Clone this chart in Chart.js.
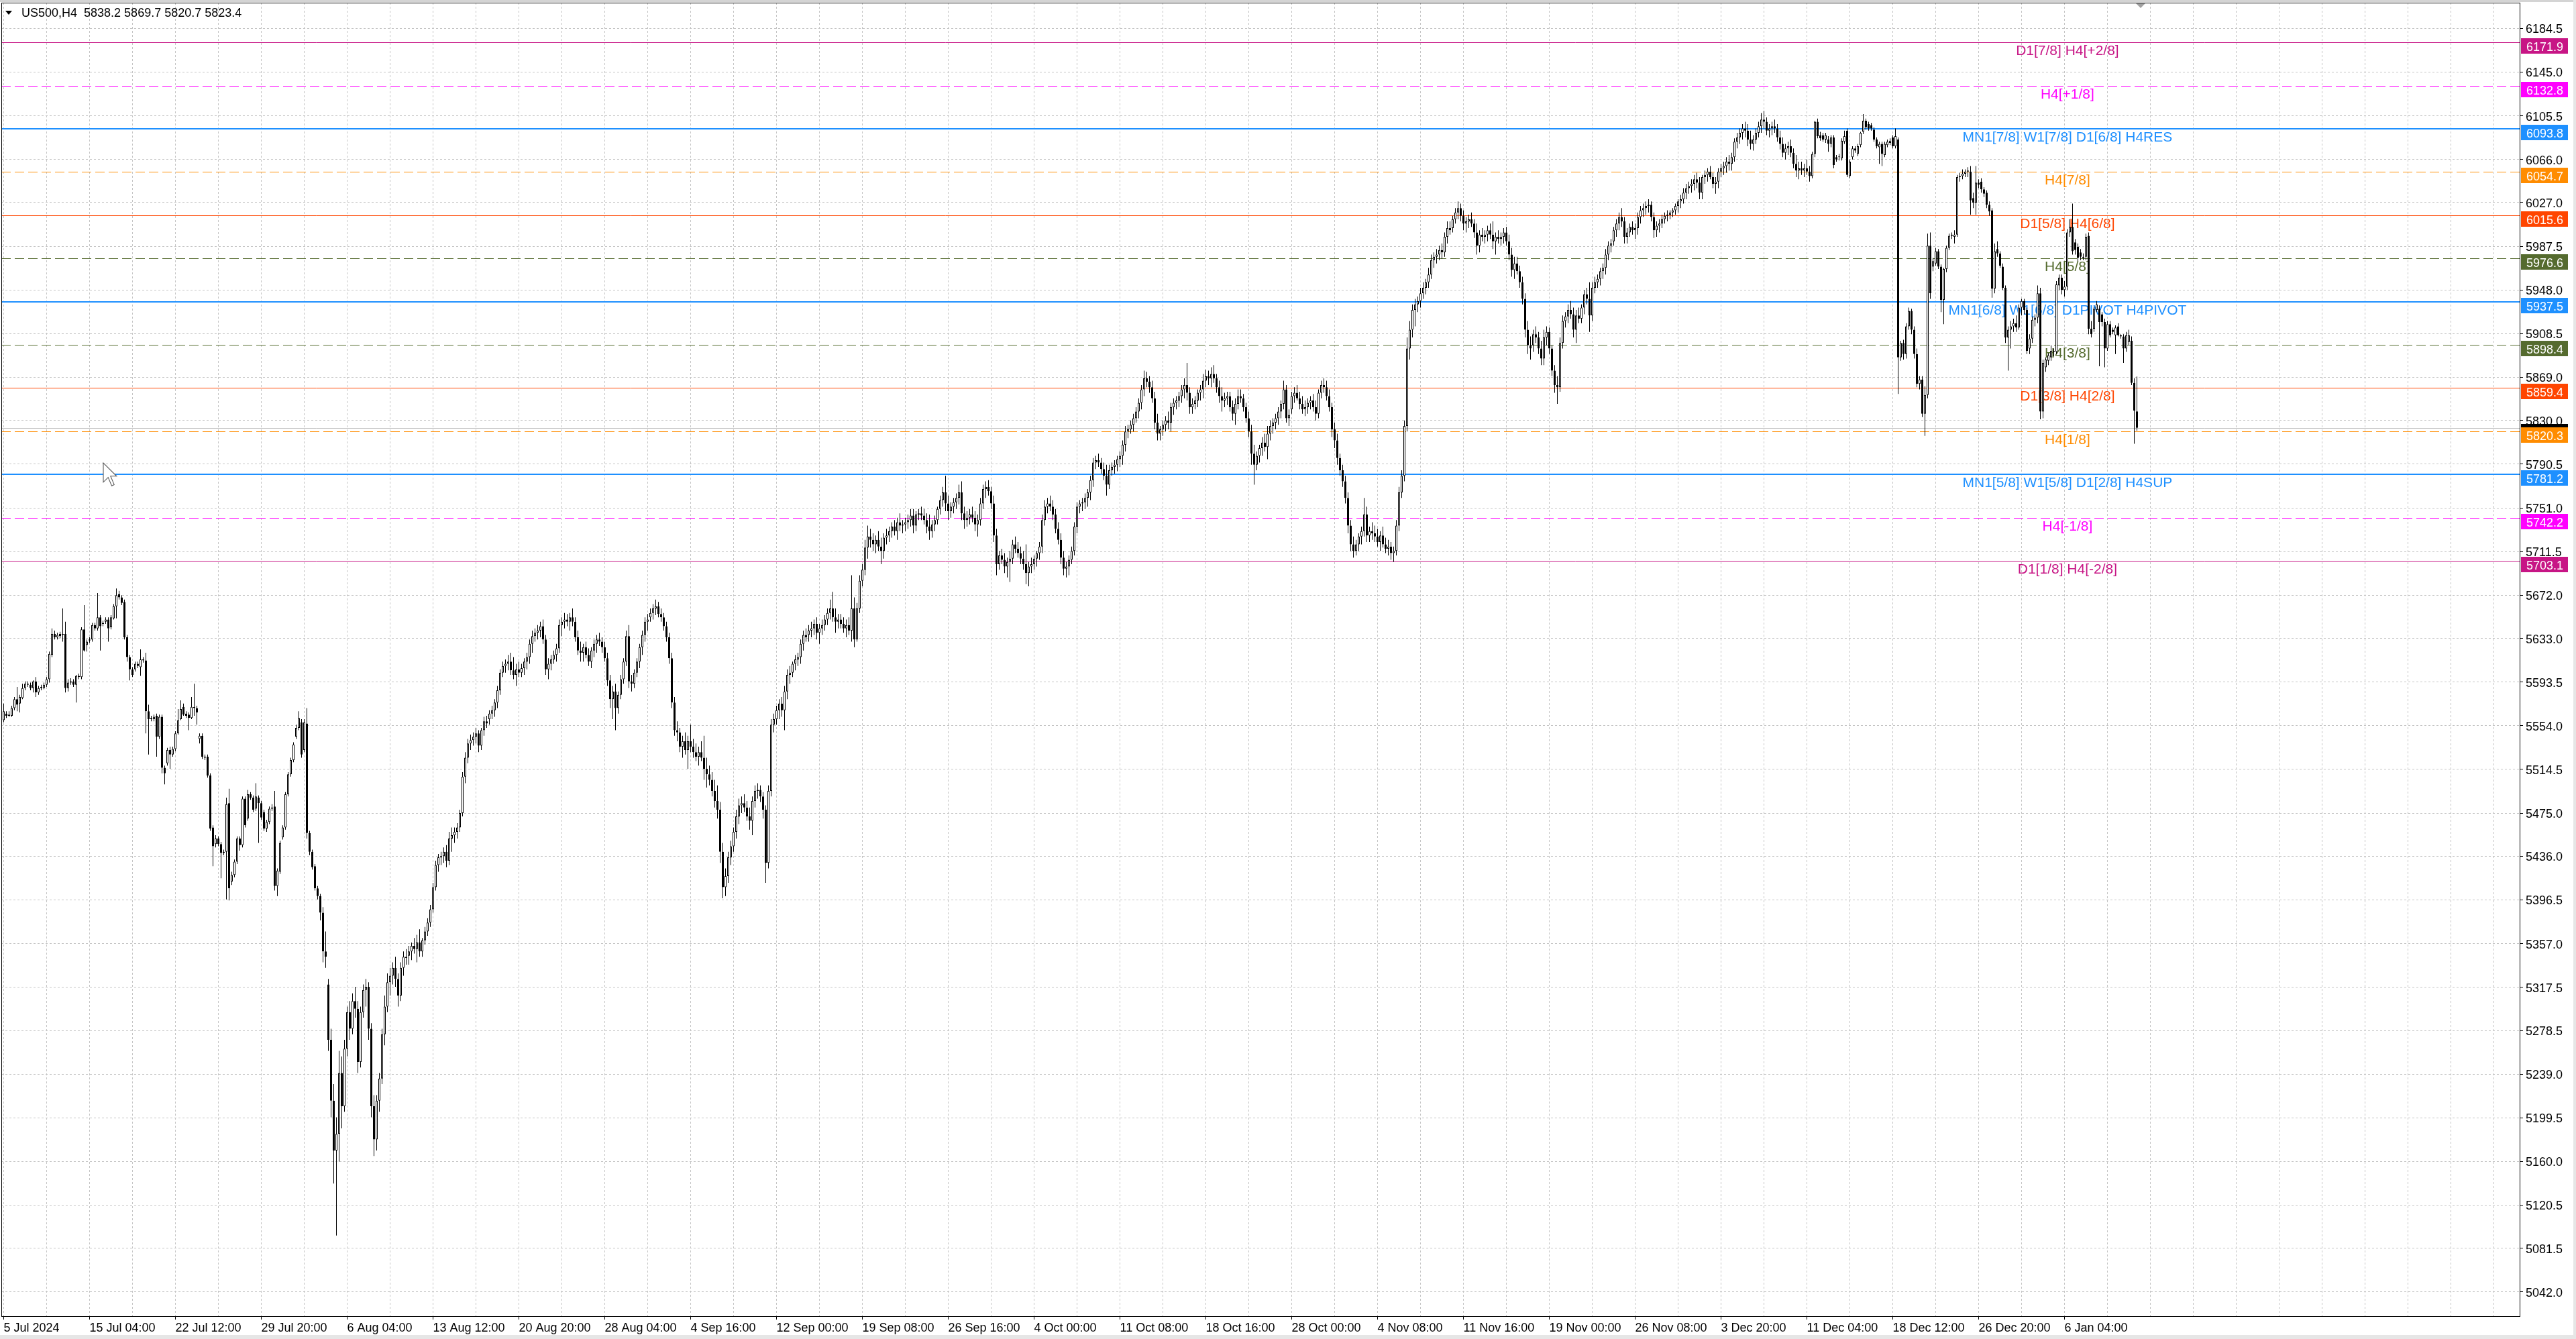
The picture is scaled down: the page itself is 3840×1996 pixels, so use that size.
<!DOCTYPE html>
<html>
<head>
<meta charset="utf-8">
<title>US500,H4</title>
<script src="https://cdn.jsdelivr.net/npm/chart.js@4.4.1/dist/chart.umd.min.js"></script>
<style>
  html, body { margin: 0; padding: 0; background: #fff; }
  canvas { display: block; }
</style>
</head>
<body>
<canvas id="chart" width="3840" height="1996"></canvas>
<script>
const symbolTitle = 'US500,H4';

// time axis labels, one every 32 bars
const tickLabels = ['5 Jul 2024', '15 Jul 04:00', '22 Jul 12:00', '29 Jul 20:00', '6 Aug 04:00',
  '13 Aug 12:00', '20 Aug 20:00', '28 Aug 04:00', '4 Sep 16:00', '12 Sep 00:00', '19 Sep 08:00',
  '26 Sep 16:00', '4 Oct 00:00', '11 Oct 08:00', '18 Oct 16:00', '28 Oct 00:00', '4 Nov 08:00',
  '11 Nov 16:00', '19 Nov 00:00', '26 Nov 08:00', '3 Dec 20:00', '11 Dec 04:00', '18 Dec 12:00',
  '26 Dec 20:00', '6 Jan 04:00'];

// price axis labels
const yTicks = [6184.5, 6145.0, 6105.5, 6066.0, 6027.0, 5987.5, 5948.0, 5908.5, 5869.0, 5830.0,
  5790.5, 5751.0, 5711.5, 5672.0, 5633.0, 5593.5, 5554.0, 5514.5, 5475.0, 5436.0, 5396.5,
  5357.0, 5317.5, 5278.5, 5239.0, 5199.5, 5160.0, 5120.5, 5081.5, 5042.0];

// murrey levels
const levelPrices = [6171.9, 6132.8, 6093.8, 6054.7, 6015.6, 5976.6, 5937.5, 5898.4, 5859.4,
  5820.3, 5781.2, 5742.2, 5703.1];
const levelNames = ['D1[7/8] H4[+2/8]', 'H4[+1/8]', 'MN1[7/8] W1[7/8] D1[6/8] H4RES', 'H4[7/8]',
  'D1[5/8] H4[6/8]', 'H4[5/8]', 'MN1[6/8] W1[6/8] D1PIVOT H4PIVOT', 'H4[3/8]', 'D1[3/8] H4[2/8]',
  'H4[1/8]', 'MN1[5/8] W1[5/8] D1[2/8] H4SUP', 'H4[-1/8]', 'D1[1/8] H4[-2/8]'];

// H4 bars, [open, high, low, close]
const barsJul = [ // 5 Jul 20:00 .. 26 Jul
  [5559,5574,5557,5567],
  [5565,5567,5561,5563],[5563,5567,5562,5564],[5563,5572,5562,5570],[5570,5580,5568,5578],[5578,5589,5567,5573],[5574,5582,5566,5580],
  [5579,5592,5578,5588],[5588,5594,5586,5592],[5591,5594,5589,5592],[5591,5593,5586,5588],[5588,5595,5584,5594],[5594,5598,5580,5584],
  [5584,5590,5582,5588],[5588,5591,5586,5589],[5588,5593,5587,5591],[5591,5598,5589,5596],[5596,5621,5593,5619],[5618,5642,5616,5637],
  [5637,5640,5632,5634],[5634,5638,5632,5636],[5637,5639,5633,5635],[5636,5660,5630,5637],[5637,5648,5584,5588],[5588,5596,5585,5593],
  [5593,5597,5591,5594],[5594,5596,5589,5591],[5591,5600,5575,5599],[5599,5601,5596,5598],[5598,5643,5596,5641],[5641,5663,5621,5622],
  [5627,5632,5621,5630],[5631,5634,5629,5632],[5632,5647,5630,5645],[5645,5647,5640,5642],[5642,5674,5640,5652],[5652,5654,5622,5644],
  [5646,5649,5644,5647],[5648,5652,5646,5650],[5650,5652,5630,5642],[5643,5654,5641,5652],[5651,5664,5650,5662],[5662,5678,5651,5672],
  [5673,5676,5668,5670],[5670,5672,5663,5665],[5666,5668,5632,5634],[5634,5636,5612,5616],[5616,5618,5595,5605],[5605,5607,5598,5600],
  [5605,5612,5603,5610],[5610,5612,5606,5608],[5607,5623,5599,5614],[5614,5616,5611,5613],[5613,5620,5547,5567],[5567,5573,5528,5560],
  [5561,5563,5558,5560],[5560,5564,5558,5562],[5563,5565,5526,5544],[5544,5564,5542,5562],[5562,5564,5511,5516],[5516,5518,5501,5511],
  [5520,5534,5518,5532],[5532,5535,5515,5528],[5528,5535,5526,5533],[5533,5549,5531,5547],[5547,5569,5546,5559],[5560,5577,5559,5569],
  [5571,5574,5563,5564],[5565,5567,5561,5563],[5564,5566,5550,5561],[5561,5580,5560,5571],[5571,5592,5563,5570],[5570,5572,5555,5566],
  [5542,5547,5538,5545],[5545,5547,5524,5526],[5526,5528,5523,5525],[5526,5528,5507,5509],[5509,5511,5459,5461],[5462,5464,5427,5445],
  [5447,5455,5444,5452],[5452,5454,5445,5447],[5447,5449,5416,5439],[5439,5442,5437,5440],[5440,5489,5397,5483],[5484,5497,5396,5407],
  [5413,5422,5410,5419],[5419,5433,5417,5431],[5431,5454,5429,5452],[5452,5454,5441,5446],[5446,5490,5444,5488],[5488,5490,5462,5464]
];
const barsAug = [ // 29 Jul .. 30 Aug
  [5470,5496,5468,5492],[5492,5494,5487,5489],[5489,5491,5476,5478],[5479,5502,5477,5490],[5489,5491,5448,5484],[5484,5486,5469,5471],
  [5476,5478,5459,5461],[5461,5469,5458,5467],[5467,5481,5465,5479],[5480,5483,5477,5479],[5481,5495,5405,5409],[5409,5425,5400,5423],
  [5422,5450,5420,5448],[5453,5464,5451,5462],[5462,5494,5460,5492],[5492,5512,5490,5510],[5510,5525,5508,5523],[5523,5539,5521,5537],
  [5544,5555,5542,5552],[5552,5567,5550,5561],[5557,5560,5525,5528],[5532,5560,5530,5557],[5556,5570,5452,5457],[5457,5459,5437,5440],
  [5440,5442,5424,5426],[5427,5429,5405,5407],[5407,5409,5397,5400],[5400,5402,5378,5385],[5385,5390,5340,5350],[5350,5368,5335,5345],
  [5320,5325,5260,5270],[5270,5280,5200,5215],[5215,5230,5140,5170],[5170,5200,5093,5185],[5185,5260,5160,5240],[5240,5255,5190,5210],
  [5210,5270,5205,5262],[5262,5300,5255,5295],[5295,5305,5270,5280],[5280,5312,5275,5305],[5305,5318,5290,5298],[5298,5305,5240,5250],
  [5250,5300,5245,5295],[5295,5320,5290,5315],[5315,5325,5300,5318],[5318,5322,5270,5280],[5280,5285,5200,5210],[5210,5220,5165,5180],
  [5180,5220,5170,5215],[5215,5240,5205,5235],[5235,5280,5230,5275],[5275,5310,5265,5300],[5300,5330,5295,5322],[5322,5335,5310,5328],
  [5328,5340,5320,5335],[5335,5345,5318,5325],[5325,5330,5300,5310],[5310,5340,5305,5335],[5335,5350,5328,5345],[5345,5352,5338,5344],
  [5346,5355,5338,5350],[5350,5358,5342,5355],[5355,5362,5348,5352],[5352,5365,5340,5358],[5358,5370,5345,5350],[5350,5362,5345,5360],
  [5360,5372,5356,5368],[5368,5380,5364,5376],[5376,5392,5372,5388],[5388,5412,5385,5408],[5408,5432,5405,5428],[5428,5438,5422,5435],
  [5435,5440,5428,5436],[5436,5444,5430,5440],[5440,5446,5426,5432],[5432,5458,5428,5452],[5452,5462,5440,5455],[5455,5462,5448,5458],
  [5458,5466,5452,5462],[5462,5478,5458,5475],[5475,5512,5472,5508],[5508,5530,5502,5525],[5525,5542,5520,5538],[5538,5546,5532,5541],
  [5541,5548,5536,5544],[5544,5552,5538,5547],[5547,5550,5530,5536],[5536,5552,5532,5550],[5550,5562,5545,5558],[5558,5563,5552,5556],
  [5560,5568,5555,5565],[5565,5572,5560,5568],[5568,5578,5562,5575],[5575,5590,5570,5586],[5586,5605,5582,5602],[5602,5612,5598,5608],
  [5608,5614,5602,5610],[5610,5618,5604,5612],[5612,5620,5600,5604],[5604,5616,5596,5600],[5600,5610,5590,5605],[5605,5612,5598,5602],
  [5602,5610,5598,5606],[5606,5615,5600,5612],[5612,5620,5605,5616],[5616,5632,5610,5628],[5628,5640,5620,5635],[5635,5642,5630,5638],
  [5638,5645,5632,5640],[5640,5648,5634,5644],[5644,5650,5628,5632],[5632,5636,5600,5605],[5605,5615,5596,5610],[5610,5618,5604,5614],
  [5614,5622,5610,5618],[5618,5628,5612,5624],[5624,5650,5620,5645],[5645,5652,5635,5648],[5648,5656,5642,5650],[5650,5655,5644,5648],
  [5648,5656,5640,5652],[5652,5660,5644,5648],[5648,5652,5630,5634],[5634,5640,5618,5622],[5622,5630,5612,5620],[5620,5628,5612,5625],
  [5625,5630,5615,5618],[5618,5624,5608,5612],[5612,5625,5606,5622],[5622,5632,5616,5628],[5628,5636,5620,5632],[5632,5638,5626,5630],
  [5630,5634,5620,5625],[5625,5630,5612,5615],[5615,5620,5590,5595],[5595,5600,5570,5578],[5578,5590,5560,5585],[5585,5592,5550,5570],
  [5570,5585,5565,5582],[5582,5600,5578,5596],[5596,5615,5592,5612],[5612,5640,5608,5635],[5635,5645,5588,5594],[5594,5600,5585,5592],
  [5592,5605,5588,5602],[5602,5615,5598,5612],[5612,5628,5606,5625],[5625,5640,5618,5636],[5636,5652,5630,5648],[5648,5655,5640,5650]
];
const barsSep = [ // 2 Sep .. 4 Oct
  [5652,5660,5648,5656],[5656,5664,5650,5660],[5660,5668,5654,5662],[5662,5666,5652,5655],[5655,5660,5648,5652],
  [5652,5656,5640,5644],[5644,5648,5630,5634],[5634,5638,5610,5615],[5615,5620,5570,5575],[5575,5580,5545,5550],[5550,5558,5540,5548],
  [5548,5552,5530,5535],[5535,5545,5525,5540],[5540,5548,5528,5532],[5532,5545,5515,5540],[5540,5555,5530,5535],[5535,5542,5525,5530],
  [5530,5538,5522,5526],[5526,5535,5518,5530],[5530,5540,5522,5525],[5525,5545,5505,5515],[5515,5525,5498,5510],[5510,5518,5500,5505],
  [5505,5512,5490,5495],[5495,5505,5480,5486],[5486,5500,5470,5478],[5478,5485,5430,5440],[5440,5448,5398,5408],[5408,5425,5400,5418],
  [5418,5440,5412,5435],[5435,5450,5428,5445],[5445,5462,5440,5458],[5458,5478,5452,5472],[5472,5488,5465,5482],[5482,5490,5475,5484],
  [5484,5492,5476,5480],[5480,5486,5468,5472],[5472,5480,5460,5468],[5468,5490,5455,5486],[5486,5500,5480,5495],[5495,5502,5488,5496],
  [5496,5500,5485,5490],[5490,5494,5470,5478],[5478,5482,5412,5430],[5430,5500,5425,5495],[5495,5560,5490,5555],[5555,5565,5548,5560],
  [5560,5572,5555,5568],[5568,5578,5560,5574],[5574,5580,5562,5568],[5568,5590,5550,5585],[5585,5605,5578,5600],[5600,5608,5592,5602],
  [5602,5612,5598,5610],[5610,5618,5604,5614],[5614,5620,5608,5616],[5616,5632,5610,5628],[5628,5640,5622,5636],[5636,5642,5630,5634],
  [5636,5645,5630,5640],[5640,5648,5634,5642],[5642,5650,5636,5646],[5646,5652,5632,5638],[5638,5646,5628,5642],[5642,5650,5636,5645],
  [5645,5654,5640,5650],[5650,5660,5645,5656],[5656,5668,5650,5660],[5660,5675,5648,5652],[5652,5660,5638,5648],[5648,5655,5642,5650],
  [5650,5655,5642,5646],[5646,5652,5638,5642],[5642,5650,5634,5645],[5645,5652,5636,5640],[5640,5690,5630,5660],[5660,5670,5625,5632],
  [5632,5665,5630,5660],[5660,5690,5656,5685],[5685,5700,5680,5695],[5695,5722,5690,5715],[5715,5735,5705,5725],[5725,5732,5715,5722],
  [5722,5728,5712,5718],[5718,5726,5710,5722],[5722,5730,5712,5716],[5716,5724,5700,5712],[5712,5728,5705,5724],[5724,5732,5718,5726],
  [5726,5734,5720,5730],[5730,5738,5724,5734],[5734,5740,5726,5730],[5730,5742,5722,5738],[5738,5746,5730,5735],[5735,5740,5728,5736],
  [5736,5742,5730,5738],[5738,5745,5732,5740],[5740,5750,5734,5744],[5744,5750,5728,5735],[5735,5748,5730,5745],[5745,5750,5740,5746],
  [5746,5752,5740,5744],[5744,5750,5736,5740],[5740,5746,5728,5734],[5734,5745,5722,5730],[5730,5740,5724,5736],[5736,5744,5730,5740],
  [5740,5752,5736,5750],[5750,5762,5745,5758],[5758,5770,5752,5765],[5765,5780,5748,5755],[5755,5762,5740,5748],[5748,5756,5742,5752],
  [5752,5760,5746,5756],[5756,5764,5750,5760],[5760,5772,5754,5765],[5765,5775,5740,5746],[5746,5752,5732,5740],[5740,5748,5734,5742],
  [5742,5750,5736,5745],[5745,5752,5738,5742],[5742,5748,5730,5736],[5736,5745,5725,5740],[5740,5760,5735,5755],[5755,5772,5750,5768],
  [5768,5775,5760,5770],[5770,5776,5762,5766],[5766,5770,5750,5755],[5755,5762,5720,5726],[5726,5732,5690,5700],[5700,5712,5695,5708],
  [5708,5714,5700,5704],[5704,5710,5692,5698],[5698,5706,5688,5702],[5702,5712,5684,5705],[5705,5722,5700,5718],[5718,5725,5710,5714],
  [5714,5720,5706,5710],[5710,5716,5700,5705],[5705,5712,5695,5700],[5700,5718,5682,5692],[5692,5702,5680,5698],[5698,5706,5692,5700],
  [5700,5708,5695,5705],[5705,5712,5698,5710],[5710,5720,5704,5716],[5716,5745,5710,5740],[5740,5758,5735,5752],[5752,5760,5746,5755]
];
const barsOct = [ // 7 Oct .. 8 Nov
  [5755,5762,5748,5752],[5752,5758,5740,5745],[5745,5750,5728,5732],[5732,5738,5718,5722],[5722,5728,5700,5706],[5706,5712,5690,5696],
  [5696,5702,5688,5698],[5698,5708,5690,5704],[5704,5716,5700,5712],[5712,5738,5708,5734],[5734,5756,5728,5752],[5752,5758,5746,5755],
  [5755,5760,5748,5756],[5756,5764,5750,5760],[5760,5768,5752,5765],[5765,5780,5758,5776],[5776,5796,5770,5792],[5792,5798,5786,5794],
  [5794,5800,5788,5792],[5792,5796,5782,5786],[5786,5792,5776,5780],[5780,5790,5762,5772],[5772,5790,5768,5785],[5785,5792,5780,5788],
  [5788,5794,5782,5790],[5790,5798,5784,5795],[5795,5802,5788,5798],[5798,5812,5790,5808],[5808,5825,5802,5820],[5820,5826,5814,5822],
  [5822,5830,5818,5826],[5826,5836,5820,5832],[5832,5842,5828,5838],[5838,5850,5832,5846],[5846,5862,5840,5858],[5858,5875,5852,5868],
  [5868,5874,5860,5865],[5865,5870,5855,5860],[5860,5866,5846,5850],[5850,5856,5822,5828],[5828,5836,5812,5818],[5818,5825,5812,5822],
  [5822,5830,5816,5826],[5826,5834,5820,5830],[5830,5838,5822,5828],[5828,5846,5820,5842],[5842,5850,5835,5846],[5846,5852,5840,5848],
  [5848,5856,5842,5852],[5852,5862,5846,5858],[5858,5868,5850,5862],[5862,5882,5848,5855],[5855,5860,5836,5842],[5842,5850,5836,5845],
  [5845,5852,5840,5848],[5848,5858,5842,5855],[5855,5862,5848,5858],[5858,5872,5850,5866],[5866,5876,5860,5870],[5870,5875,5862,5868],
  [5868,5878,5860,5872],[5872,5880,5864,5868],[5868,5872,5855,5860],[5860,5866,5846,5852],[5852,5860,5838,5848],[5848,5855,5842,5850],
  [5850,5856,5844,5852],[5852,5856,5838,5842],[5842,5848,5830,5836],[5836,5850,5826,5845],[5845,5858,5840,5852],[5852,5858,5846,5850],
  [5850,5854,5838,5842],[5842,5846,5828,5832],[5832,5838,5815,5820],[5820,5826,5790,5800],[5800,5808,5772,5790],[5790,5802,5785,5798],
  [5798,5808,5792,5805],[5805,5815,5798,5810],[5810,5818,5802,5806],[5806,5825,5795,5818],[5818,5830,5812,5825],[5825,5832,5818,5828],
  [5828,5836,5822,5832],[5832,5842,5826,5838],[5838,5848,5832,5845],[5845,5866,5840,5858],[5858,5862,5828,5832],[5832,5840,5825,5835],
  [5840,5856,5836,5852],[5852,5860,5846,5855],[5855,5862,5848,5850],[5850,5856,5840,5845],[5845,5852,5836,5840],[5840,5848,5834,5842],
  [5842,5850,5836,5846],[5846,5852,5840,5848],[5848,5854,5838,5842],[5842,5848,5830,5836],[5836,5858,5832,5855],[5855,5866,5850,5862],
  [5862,5868,5855,5860],[5860,5866,5848,5852],[5852,5858,5838,5842],[5842,5846,5815,5822],[5822,5828,5805,5812],[5812,5818,5790,5796],
  [5796,5800,5780,5785],[5785,5790,5770,5775],[5775,5780,5755,5760],[5760,5765,5728,5735],[5735,5740,5712,5718],[5718,5725,5706,5712],
  [5712,5722,5708,5718],[5718,5728,5712,5725],[5725,5734,5718,5730],[5730,5760,5725,5745],[5745,5752,5720,5726],[5726,5734,5720,5730],
  [5730,5738,5722,5728],[5728,5735,5720,5725],[5725,5732,5716,5720],[5720,5730,5712,5726],[5726,5734,5715,5718],[5718,5724,5710,5714],
  [5714,5722,5708,5716],[5716,5720,5704,5710],[5710,5716,5702,5712],[5712,5740,5708,5735],[5735,5770,5730,5765],[5765,5785,5760,5780],
  [5780,5830,5775,5825],[5825,5905,5820,5895],[5895,5920,5885,5912],[5912,5935,5905,5930],[5930,5940,5915,5935],[5935,5942,5928,5938],
  [5938,5950,5932,5945],[5945,5955,5940,5950],[5950,5958,5944,5955],[5955,5968,5950,5962],[5962,5980,5958,5975],[5975,5982,5968,5978],
  [5978,5985,5972,5980],[5980,5988,5975,5984],[5984,5990,5976,5982],[5982,6000,5978,5996],[5996,6010,5990,6004],[6004,6010,5998,6002]
];
const barsNov = [ // 11 Nov .. 6 Dec
  [6004,6015,6000,6012],[6012,6022,6008,6018],[6018,6028,6012,6022],[6022,6026,6010,6015],[6015,6020,6002,6008],[6008,6014,6000,6010],
  [6010,6016,6004,6012],[6012,6018,6005,6008],[6008,6012,5995,6000],[6000,6008,5980,5988],[5988,6002,5982,5998],[5998,6004,5992,5996],
  [5996,6002,5990,5998],[5998,6006,5992,6002],[6002,6008,5994,5998],[5998,6010,5985,5992],[5992,6000,5980,5996],[5996,6002,5990,5994],
  [5994,6000,5988,5996],[5996,6004,5990,6000],[6000,6005,5988,5992],[5992,5998,5975,5980],[5980,5986,5960,5966],[5966,5978,5958,5972],
  [5972,5978,5962,5965],[5965,5970,5950,5955],[5955,5960,5935,5940],[5940,5945,5905,5912],[5912,5920,5890,5898],[5898,5906,5885,5895],
  [5898,5912,5892,5908],[5908,5915,5900,5905],[5905,5910,5890,5895],[5895,5902,5880,5886],[5886,5912,5880,5905],[5905,5915,5898,5910],
  [5910,5914,5890,5895],[5895,5898,5870,5875],[5875,5880,5855,5862],[5862,5870,5845,5860],[5860,5905,5856,5900],[5900,5925,5895,5920],
  [5920,5928,5914,5924],[5924,5935,5918,5930],[5930,5938,5922,5926],[5926,5932,5905,5912],[5912,5930,5900,5925],[5925,5932,5918,5922],
  [5922,5935,5918,5932],[5932,5948,5926,5944],[5944,5950,5935,5940],[5940,5955,5910,5925],[5925,5955,5920,5950],[5950,5960,5945,5955],
  [5955,5962,5950,5958],[5958,5968,5952,5965],[5965,5972,5958,5968],[5968,5985,5962,5980],[5980,5992,5975,5988],[5988,5994,5982,5990],
  [5992,6005,5988,6002],[6002,6012,5996,6008],[6008,6018,6002,6014],[6014,6022,6005,6010],[6010,6014,5990,5996],[5996,6004,5990,6000],
  [6000,6008,5996,6005],[6005,6010,5998,6002],[6002,6008,5994,6004],[6004,6018,5998,6014],[6014,6024,6008,6020],[6020,6026,6014,6022],
  [6022,6028,6016,6024],[6024,6030,6018,6025],[6025,6028,6010,6014],[6014,6018,5995,6002],[6002,6010,5996,6006],[6006,6012,6000,6008],
  [6008,6016,6004,6012],[6012,6018,6008,6015],[6015,6020,6010,6016],[6016,6020,6012,6018],[6018,6022,6014,6020],
  [6020,6026,6016,6024],[6024,6030,6018,6028],[6028,6034,6022,6030],[6030,6040,6026,6036],[6036,6044,6030,6040],[6040,6046,6035,6042],
  [6042,6048,6036,6044],[6044,6052,6038,6048],[6048,6054,6040,6045],[6045,6050,6030,6036],[6036,6052,6030,6050],[6050,6056,6044,6052],
  [6052,6058,6046,6055],[6055,6060,6048,6050],[6050,6054,6040,6044],[6044,6050,6035,6046],[6046,6058,6040,6055],[6055,6062,6050,6058],
  [6058,6064,6052,6060],[6060,6068,6054,6064],[6064,6070,6056,6062],[6062,6072,6056,6068],[6068,6085,6064,6082],[6082,6090,6076,6086],
  [6086,6094,6080,6090],[6090,6098,6084,6094],[6094,6100,6086,6092],[6092,6098,6078,6084],[6084,6092,6075,6080],[6080,6088,6074,6084],
  [6084,6094,6080,6090],[6090,6100,6086,6096],[6096,6108,6090,6102],[6102,6110,6094,6100],[6100,6104,6088,6092],[6092,6098,6086,6094]
];
const barsDec = [ // 9 Dec .. 3 Jan
  [6094,6100,6088,6096],[6096,6102,6090,6094],[6094,6098,6082,6086],[6086,6092,6075,6080],[6080,6086,6068,6072],[6072,6080,6066,6076],
  [6076,6082,6070,6078],[6078,6084,6068,6072],[6072,6076,6058,6062],[6062,6070,6050,6056],[6056,6064,6048,6058],[6058,6064,6052,6056],
  [6056,6062,6050,6058],[6058,6066,6052,6055],[6055,6060,6046,6051],[6051,6073,6049,6071],[6071,6101,6068,6100],[6100,6103,6085,6087],
  [6088,6091,6083,6085],[6088,6090,6082,6084],[6084,6090,6081,6088],[6084,6087,6073,6080],[6080,6088,6077,6086],[6086,6088,6058,6061],
  [6068,6070,6064,6066],[6068,6071,6065,6068],[6067,6085,6065,6083],[6082,6092,6080,6087],[6092,6094,6050,6052],[6051,6066,6049,6064],
  [6068,6078,6066,6076],[6076,6078,6072,6074],[6071,6080,6069,6078],[6079,6091,6077,6090],[6091,6107,6089,6101],[6101,6103,6093,6095],
  [6098,6100,6092,6094],[6097,6099,6092,6094],[6093,6095,6082,6084],[6084,6086,6076,6078],[6077,6082,6062,6080],[6080,6082,6060,6071],
  [6070,6082,6068,6080],[6079,6084,6077,6082],[6081,6085,6079,6083],[6086,6088,6076,6078],[6078,6094,6076,6087],[6084,6086,5854,5887],
  [5887,5902,5884,5900],[5900,5903,5885,5890],[5890,5918,5886,5915],[5915,5932,5912,5929],[5929,5931,5908,5912],[5912,5915,5886,5890],
  [5890,5895,5860,5863],[5863,5870,5858,5867],[5867,5870,5833,5836],[5836,5861,5816,5853],[5853,5999,5850,5988],[5988,6000,5940,5945],
  [5969,5977,5965,5974],[5972,5986,5970,5983],[5983,5985,5967,5969],[5969,5971,5928,5939],[5939,5968,5917,5967],[5967,5988,5964,5986],
  [5986,5999,5984,5997],[5997,6000,5994,5998],[5996,6002,5990,5998],[5998,6052,5996,6050],[6050,6054,6046,6051],[6051,6057,6048,6053],
  [6053,6057,6050,6055],[6055,6059,6050,6056],[6055,6060,6016,6029],[6031,6036,6022,6027],[6027,6060,6016,6045],[6045,6048,6040,6043],
  [6046,6049,6036,6039],[6039,6041,6032,6035],[6036,6038,6022,6025],[6025,6028,6015,6019],[6020,6022,5941,5949],[5949,5990,5945,5983],
  [5985,5992,5978,5981],[5981,5983,5968,5970],[5969,5972,5948,5950],[5950,5952,5900,5905],[5905,5915,5875,5912],[5912,5920,5895,5915],
  [5915,5922,5910,5918],[5918,5925,5910,5914],[5914,5935,5912,5932],[5932,5940,5925,5938],[5938,5940,5926,5930],[5930,5932,5890,5893],
  [5895,5908,5890,5904],[5904,5924,5900,5921],[5921,5926,5915,5923],[5923,5952,5918,5945],[5945,5950,5831,5838],[5838,5885,5832,5882],
  [5878,5887,5874,5885],[5884,5891,5880,5889],[5887,5898,5884,5893],[5892,5895,5888,5893],[5892,5956,5890,5953],[5952,5962,5948,5959]
];
const barsJan = [ // 6 Jan .. 10 Jan
  [5959,5962,5944,5948],[5948,5956,5942,5951],[5951,6003,5948,6000],[6000,6012,5996,6005],[6005,6026,5980,5983],[5991,5994,5980,5984],
  [5987,5990,5974,5977],[5982,5985,5975,5978],[5978,5981,5975,5977],[5978,5999,5975,5996],[5997,6000,5908,5913],[5913,5920,5905,5908],
  [5913,5933,5910,5931],[5930,5938,5928,5935],[5931,5934,5879,5919],[5926,5928,5915,5919],[5919,5922,5878,5895],[5895,5920,5893,5917],
  [5917,5920,5905,5907],[5912,5914,5908,5910],[5907,5916,5890,5914],[5915,5918,5906,5907],[5907,5908,5904,5906],[5906,5908,5882,5895],
  [5895,5910,5892,5907],[5901,5912,5898,5907],[5902,5906,5862,5864],[5864,5868,5809,5839],[5838.2,5869.7,5820.7,5823.4]
];

const bars = [...barsJul, ...barsAug, ...barsSep, ...barsOct, ...barsNov, ...barsDec, ...barsJan];
const lastBar = bars[bars.length - 1];
const currentPrice = lastBar[3];

// ---- layout / style ----
const FONT = '"Liberation Sans", Arial, sans-serif';
const X_MIN = -0.875, X_MAX = 937.625;      // 4 px per bar
const Y_MIN = 5020.12, Y_MAX = 6207.73;
const LABEL_BAR = 769.1;                     // where the level names are centred

const levelStyle = [
  { color: '#C71585', dash: [], width: 1 },
  { color: '#FF00FF', dash: [14, 6], width: 1 },
  { color: '#1E90FF', dash: [], width: 2 },
  { color: '#FF8C00', dash: [14, 6], width: 1 },
  { color: '#FF4500', dash: [], width: 1 },
  { color: '#556B2F', dash: [14, 6], width: 1 },
  { color: '#1E90FF', dash: [], width: 2 },
  { color: '#556B2F', dash: [14, 6], width: 1 },
  { color: '#FF4500', dash: [], width: 1 },
  { color: '#FF8C00', dash: [14, 6], width: 1 },
  { color: '#1E90FF', dash: [], width: 2 },
  { color: '#FF00FF', dash: [14, 6], width: 1 },
  { color: '#C71585', dash: [], width: 1 }
];

function isLabelTick(v) {
  return v % 32 === 0 && v / 32 < tickLabels.length;
}

function priceBox(ctx, yy, bg, text) {
  ctx.fillStyle = bg;
  ctx.fillRect(3758, yy - 6, 70, 23);
  ctx.fillStyle = '#fff';
  ctx.font = '18px ' + FONT;
  ctx.textAlign = 'left';
  ctx.textBaseline = 'alphabetic';
  ctx.fillText(text, 3766, yy + 13);
}

const levelsPlugin = {
  id: 'levels',
  beforeDatasetsDraw(chart) {
    const { ctx, chartArea: a, scales: { x, y } } = chart;
    ctx.save();
    ctx.beginPath();
    ctx.rect(a.left, a.top, a.right - a.left, a.bottom - a.top);
    ctx.clip();

    // bid line
    let py = Math.round(y.getPixelForValue(currentPrice)) + 0.5;
    ctx.strokeStyle = '#c0c0c0';
    ctx.lineWidth = 1;
    ctx.setLineDash([]);
    ctx.beginPath(); ctx.moveTo(a.left, py); ctx.lineTo(a.right, py); ctx.stroke();

    const lx = x.getPixelForValue(LABEL_BAR);
    levelPrices.forEach((p, k) => {
      const s = levelStyle[k];
      const base = Math.round(y.getPixelForValue(p));
      const yy = s.width === 2 ? base : base + 0.5;
      ctx.strokeStyle = s.color;
      ctx.lineWidth = s.width;
      ctx.setLineDash(s.dash);
      ctx.beginPath(); ctx.moveTo(a.left, yy); ctx.lineTo(a.right, yy); ctx.stroke();
      ctx.fillStyle = s.color;
      ctx.font = '21px ' + FONT;
      ctx.textAlign = 'center';
      ctx.textBaseline = 'alphabetic';
      ctx.fillText(levelNames[k], lx, base + 19);
    });
    ctx.restore();
  },
  afterDraw(chart) {
    const { ctx, chartArea: a, scales: { x, y } } = chart;
    ctx.save();
    ctx.setLineDash([]);

    // window chrome
    ctx.fillStyle = '#d4d4d4';
    ctx.fillRect(0, 0, 3840, 3);
    ctx.fillStyle = '#e6e6e6';
    ctx.fillRect(3836, 0, 4, 1996);
    ctx.fillRect(0, 1990, 3840, 6);

    // chart frame
    ctx.strokeStyle = '#000';
    ctx.lineWidth = 1;
    ctx.strokeRect(a.left + 0.5, a.top + 0.5, a.right - a.left, a.bottom - a.top);

    // price labels on the axis
    levelPrices.forEach((p, k) => {
      const yy = Math.round(y.getPixelForValue(p));
      if (k === 9) {
        priceBox(ctx, Math.round(y.getPixelForValue(currentPrice)), '#000', currentPrice.toFixed(1));
      }
      priceBox(ctx, yy, levelStyle[k].color, p.toFixed(1));
    });

    // title
    ctx.fillStyle = '#000';
    ctx.beginPath();
    ctx.moveTo(8, 16); ctx.lineTo(18, 16); ctx.lineTo(13, 22); ctx.closePath();
    ctx.fill();
    ctx.font = '18px ' + FONT;
    ctx.textAlign = 'left';
    ctx.textBaseline = 'alphabetic';
    ctx.fillText(symbolTitle + '  ' + lastBar.map(v => v.toFixed(1)).join(' '), 32, 25);

    // chart shift marker
    const sx = Math.round(x.getPixelForValue(796.4));
    ctx.fillStyle = '#a0a0a0';
    ctx.beginPath();
    ctx.moveTo(sx - 7, a.top + 1); ctx.lineTo(sx + 7, a.top + 1); ctx.lineTo(sx, a.top + 8); ctx.closePath();
    ctx.fill();

    // mouse pointer
    ctx.translate(154, 690);
    ctx.scale(1.8, 1.8);
    ctx.beginPath();
    ctx.moveTo(0, 0); ctx.lineTo(0, 16); ctx.lineTo(4, 12); ctx.lineTo(7, 19);
    ctx.lineTo(9, 18); ctx.lineTo(6, 11); ctx.lineTo(11, 11); ctx.closePath();
    ctx.fillStyle = '#fff';
    ctx.fill();
    ctx.lineWidth = 0.6;
    ctx.strokeStyle = '#555';
    ctx.stroke();
    ctx.restore();
  }
};

Chart.defaults.font.family = FONT;
Chart.defaults.font.size = 18;
Chart.defaults.color = '#000';

const ctx = document.getElementById('chart').getContext('2d');
new Chart(ctx, {
  type: 'bar',
  data: {
    datasets: [{
      label: 'body',
      data: bars.map((b, i) => ({ x: i, y: [b[0], b[3]] })),
      backgroundColor: bars.map(b => (b[3] >= b[0] ? '#ffffff' : '#000000')),
      borderColor: '#000',
      borderWidth: 1,
      borderSkipped: false,
      barThickness: 3,
      minBarLength: 1,
      inflateAmount: 0,
      grouped: false
    }, {
      label: 'wick',
      data: bars.map((b, i) => ({ x: i, y: [b[2], b[1]] })),
      backgroundColor: '#000',
      borderWidth: 0,
      barThickness: 1,
      inflateAmount: 0,
      grouped: false
    }]
  },
  options: {
    responsive: false,
    animation: false,
    devicePixelRatio: 1,
    layout: { padding: { top: 4, left: 2, right: 0, bottom: 0 } },
    plugins: { legend: { display: false }, tooltip: { enabled: false } },
    scales: {
      x: {
        type: 'linear',
        min: X_MIN,
        max: X_MAX,
        offset: false,
        afterBuildTicks(scale) {
          const t = [];
          for (let v = 0; v <= X_MAX; v += 16) t.push({ value: v });
          scale.ticks = t;
        },
        afterFit(scale) {
          scale.height = 34;
          scale.paddingLeft = 0;
          scale.paddingRight = 0;
        },
        ticks: {
          autoSkip: false,
          maxRotation: 0,
          minRotation: 0,
          align: 'start',
          padding: 2,
          color: '#000',
          font: { size: 18 },
          callback: (v) => (isLabelTick(v) ? tickLabels[v / 32] : '')
        },
        grid: {
          offset: false,
          color: '#c4c4c4',
          lineWidth: 1,
          drawTicks: true,
          tickLength: 5,
          tickColor: (c) => (c.tick && isLabelTick(c.tick.value) ? '#000' : 'rgba(0,0,0,0)')
        },
        border: { display: false, dash: [3, 3] }
      },
      y: {
        position: 'right',
        min: Y_MIN,
        max: Y_MAX,
        afterBuildTicks(scale) {
          scale.ticks = yTicks.map(v => ({ value: v }));
        },
        afterFit(scale) {
          scale.width = 84;
          scale.paddingTop = 0;
          scale.paddingBottom = 0;
        },
        ticks: {
          padding: 4,
          labelOffset: 2,
          color: '#000',
          font: { size: 18 },
          callback: (v) => Number(v).toFixed(1)
        },
        grid: {
          color: '#c4c4c4',
          lineWidth: 1,
          drawTicks: true,
          tickLength: 5,
          tickColor: '#000'
        },
        border: { display: false, dash: [3, 3] }
      }
    }
  },
  plugins: [levelsPlugin]
});
</script>
</body>
</html>
